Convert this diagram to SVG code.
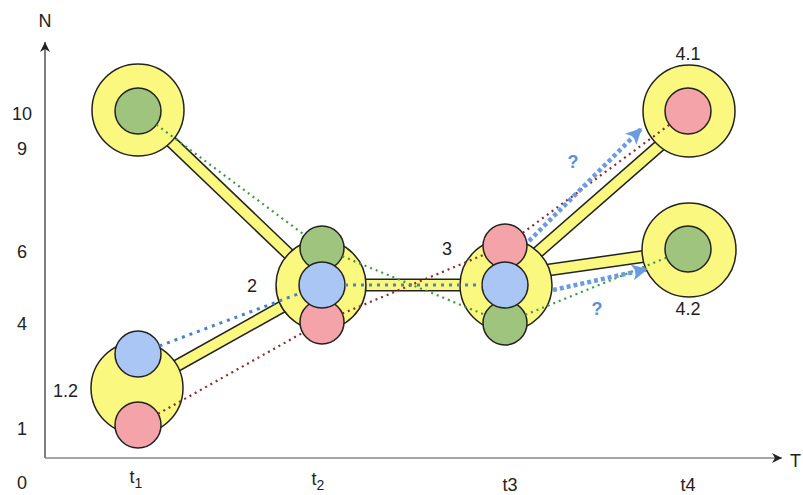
<svg xmlns="http://www.w3.org/2000/svg" width="803" height="495" viewBox="0 0 803 495">
<style>
.txt{font-family:"Liberation Sans",Arial,sans-serif;font-size:18px;fill:#222}
.q{font-family:"Liberation Sans",Arial,sans-serif;font-size:18px;font-weight:bold;fill:#5b8fd8}
.yel{fill:#fbf880;stroke:#222;stroke-width:1.5}
.grn{fill:#9ec47e;stroke:#222;stroke-width:1.5}
.blu{fill:#a9c6f4;stroke:#222;stroke-width:1.5}
.pnk{fill:#f4a3a8;stroke:#222;stroke-width:1.5}
.barO{stroke:#222;stroke-width:13;fill:none}
.barI{stroke:#fbf880;stroke-width:10;fill:none}
.dg{stroke:#3f9a3f;stroke-width:2.2;stroke-dasharray:2 4;fill:none}
.dp{stroke:#8a2a30;stroke-width:2.2;stroke-dasharray:2 4;fill:none}
.db{stroke:#4a80c8;stroke-width:3;stroke-dasharray:3 5;fill:none}
.da{stroke:#6b9be0;stroke-width:4.5;stroke-dasharray:4 3;fill:none}
</style>
<defs>
<marker id="ah" markerUnits="userSpaceOnUse" markerWidth="18" markerHeight="18" refX="16" refY="8" orient="auto">
<path d="M0,0 L16,8 L0,16 L4,8 Z" fill="#6b9be0"/>
</marker>
<marker id="ax" markerUnits="userSpaceOnUse" markerWidth="12" markerHeight="12" refX="10" refY="5" orient="auto">
<path d="M0,0 L10,5 L0,10 L3,5 Z" fill="#222"/>
</marker>
</defs>
<g id="axes">
<line x1="45" y1="458" x2="45" y2="42" stroke="#555" stroke-width="1.5" marker-end="url(#ax)"/>
<line x1="45" y1="458" x2="782" y2="458" stroke="#888" stroke-width="1.5" marker-end="url(#ax)"/>
<text class="txt" x="45" y="27" text-anchor="middle">N</text>
<text class="txt" x="790" y="467">T</text>
<text class="txt" x="22" y="120" text-anchor="middle">10</text>
<text class="txt" x="22" y="155" text-anchor="middle">9</text>
<text class="txt" x="22" y="258" text-anchor="middle">6</text>
<text class="txt" x="22" y="330" text-anchor="middle">4</text>
<text class="txt" x="22" y="435" text-anchor="middle">1</text>
<text class="txt" x="22" y="489" text-anchor="middle">0</text>
<text class="txt" x="136" y="483" text-anchor="middle">t<tspan font-size="14" dy="5">1</tspan></text>
<text class="txt" x="318" y="485" text-anchor="middle">t<tspan font-size="14" dy="5">2</tspan></text>
<text class="txt" x="510" y="491" text-anchor="middle">t3</text>
<text class="txt" x="688" y="491" text-anchor="middle">t4</text>
</g>
<g id="links">
<line class="barO" x1="138" y1="110" x2="321" y2="285"/>
<line class="barO" x1="137" y1="388" x2="321" y2="285"/>
<line class="barO" x1="321" y1="285" x2="506" y2="285"/>
<line class="barO" x1="506" y1="280" x2="689" y2="120"/>
<line class="barO" x1="506" y1="276" x2="689" y2="250"/>
<line class="barI" x1="138" y1="110" x2="321" y2="285"/>
<line class="barI" x1="137" y1="388" x2="321" y2="285"/>
<line class="barI" x1="321" y1="285" x2="506" y2="285"/>
<line class="barI" x1="506" y1="280" x2="689" y2="120"/>
<line class="barI" x1="506" y1="276" x2="689" y2="250"/>
</g>
<g id="node-t1-10">
<circle class="yel" cx="138" cy="110" r="46"/>
<circle class="grn" cx="138" cy="111" r="23"/>
</g>
<g id="node-1-2">
<circle class="yel" cx="137" cy="388" r="46"/>
<circle class="pnk" cx="138" cy="425" r="23"/>
<circle class="blu" cx="138" cy="354" r="23"/>
<text class="txt" x="53" y="397" font-size="16">1.2</text>
</g>
<g id="node-2">
<circle class="yel" cx="321" cy="285" r="45"/>
<circle class="grn" cx="322" cy="248" r="22"/>
<circle class="pnk" cx="322" cy="322" r="22"/>
<circle class="blu" cx="322" cy="285" r="23"/>
<text class="txt" x="252" y="292" text-anchor="middle">2</text>
</g>
<g id="node-3">
<circle class="yel" cx="506" cy="285" r="46"/>
<circle class="pnk" cx="505" cy="246" r="22"/>
<circle class="grn" cx="505" cy="323" r="22"/>
<circle class="blu" cx="505" cy="285" r="23"/>
<text class="txt" x="447" y="255" text-anchor="middle">3</text>
</g>
<g id="node-4-1">
<circle class="yel" cx="689" cy="111" r="46"/>
<circle class="pnk" cx="688" cy="111" r="23"/>
<text class="txt" x="688" y="60" text-anchor="middle">4.1</text>
</g>
<g id="node-4-2">
<circle class="yel" cx="689" cy="250" r="47"/>
<circle class="grn" cx="688" cy="249" r="23"/>
<text class="txt" x="688" y="315" text-anchor="middle">4.2</text>
</g>
<g id="connectors">
<line class="dg" x1="156.4" y1="124.7" x2="304.4" y2="234.9"/>
<line class="dg" x1="342.4" y1="256.3" x2="484.6" y2="314.7"/>
<line class="dg" x1="525.4" y1="314.7" x2="666.7" y2="257.6"/>
<line class="dp" x1="158.1" y1="413.8" x2="302.8" y2="332.7"/>
<line class="dp" x1="342.3" y1="313.6" x2="484.7" y2="254.4"/>
<line class="dp" x1="522.7" y1="232.9" x2="669.5" y2="124.7"/>
<line class="db" x1="159.5" y1="345.9" x2="300.5" y2="293.1"/>
<line class="db" x1="345" y1="285" x2="482" y2="285"/>
<line class="da" x1="529" y1="241" x2="642" y2="128" marker-end="url(#ah)"/>
<line class="da" x1="553" y1="290" x2="648" y2="269" marker-end="url(#ah)"/>
<text class="q" x="573" y="168" text-anchor="middle">?</text>
<text class="q" x="597" y="315" text-anchor="middle">?</text>
</g>
</svg>
